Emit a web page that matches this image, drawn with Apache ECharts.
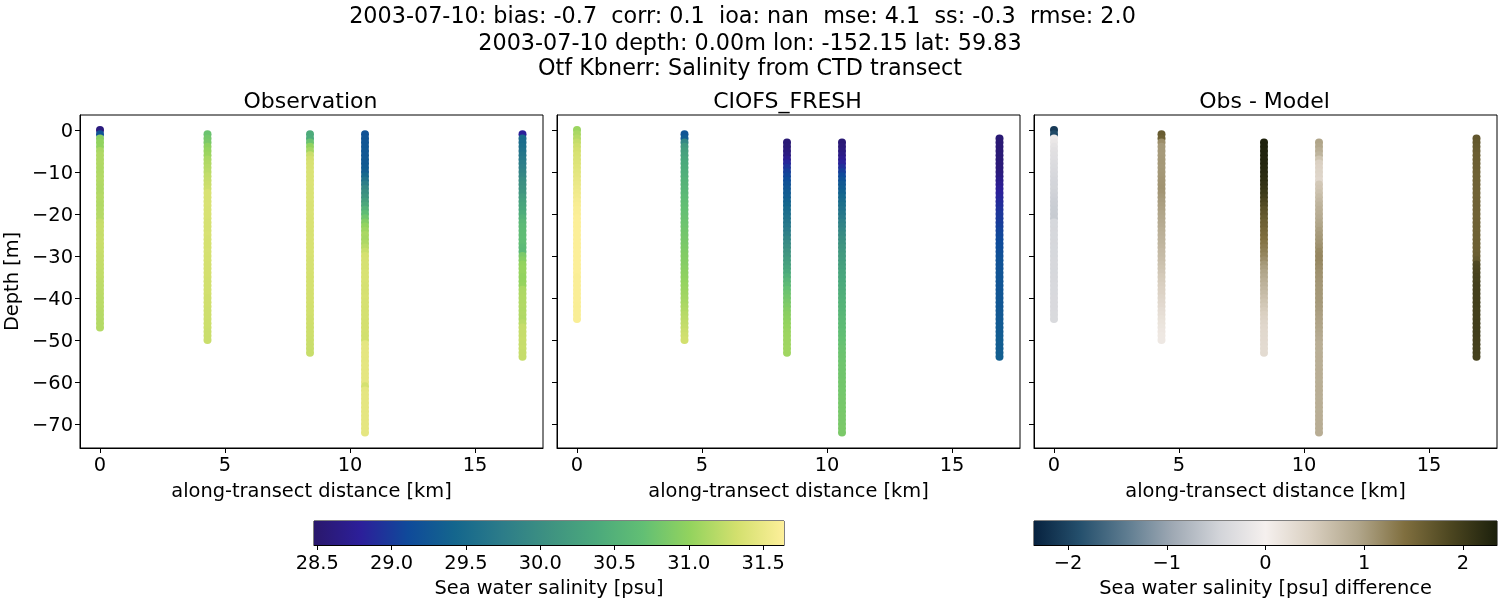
<!DOCTYPE html>
<html>
<head>
<meta charset="utf-8">
<style>
html, body { margin: 0; padding: 0; background: #fff; }
#chart { width: 1500px; height: 600px; }
</style>
<script src="https://cdn.jsdelivr.net/npm/echarts@6/dist/echarts.min.js"></script>
</head>
<body>
<div id="chart"></div>
<script>
var distances = [0, 4.3, 8.4, 10.6, 16.9];
var depths = [0,-1,-2,-3,-4,-5,-6,-7,-8,-9,-10,-11,-12,-13,-14,-15,-16,-17,-18,-19,-20,-21,-22,-23,-24,-25,-26,-27,-28,-29,-30,-31,-32,-33,-34,-35,-36,-37,-38,-39,-40,-41,-42,-43,-44,-45,-46,-47,-48,-49,-50,-51,-52,-53,-54,-55,-56,-57,-58,-59,-60,-61,-62,-63,-64,-65,-66,-67,-68,-69,-70,-71,-72];

// first depth index of every cast
var obsStart = [0, 1, 1, 1, 1];
var modelStart = [0, 1, 3, 3, 2];

var obs0 = [28.6,29.2,30.95,31.0,31.0,31.12,31.15,31.15,31.16,31.15,
  31.15,31.16,31.17,31.16,31.15,31.16,31.18,31.17,31.16,31.17,
  31.18,31.18,31.26,31.27,31.27,31.26,31.27,31.28,31.27,31.27,
  31.26,31.26,31.25,31.25,31.24,31.24,31.23,31.22,31.22,31.21,
  31.2,31.2,31.2,31.19,31.18,31.18,31.17,31.17];
var obs1 = [30.75,30.82,30.85,30.98,31.02,31.05,31.12,31.15,31.18,31.2,
  31.24,31.26,31.28,31.3,31.36,31.36,31.36,31.37,31.36,31.36,
  31.36,31.35,31.35,31.35,31.36,31.35,31.34,31.34,31.35,31.34,
  31.34,31.33,31.33,31.33,31.33,31.32,31.32,31.32,31.32,31.31,
  31.31,31.31,31.3,31.3,31.3,31.29,31.29,31.28,31.28,31.28];
var obs2 = [30.4,30.42,30.75,31.0,31.1,31.28,31.33,31.36,31.37,31.38,
  31.38,31.38,31.39,31.38,31.38,31.38,31.38,31.37,31.37,31.38,
  31.37,31.37,31.37,31.36,31.36,31.37,31.36,31.36,31.36,31.36,
  31.35,31.35,31.35,31.35,31.34,31.34,31.34,31.34,31.33,31.33,
  31.33,31.32,31.32,31.32,31.31,31.31,31.3,31.3,31.3,31.29,
  31.28,31.28,31.27];
var obs3 = [29.2,29.22,29.24,29.25,29.26,29.26,29.27,29.28,29.3,29.34,
  29.45,29.6,29.75,29.9,30.0,30.1,30.22,30.35,30.5,30.65,
  30.78,30.9,31.0,31.06,31.12,31.1,31.14,31.2,31.27,31.34,
  31.35,31.35,31.35,31.36,31.36,31.36,31.35,31.35,31.35,31.36,
  31.35,31.35,31.34,31.34,31.34,31.33,31.33,31.33,31.32,31.32,
  31.45,31.46,31.46,31.46,31.45,31.46,31.46,31.46,31.46,31.46,
  31.34,31.45,31.46,31.46,31.46,31.46,31.46,31.46,31.46,31.46,
  31.46,31.46];
var obs4 = [28.8,29.5,29.52,29.55,29.6,29.65,29.7,29.75,29.8,29.85,
  29.9,29.98,30.02,30.06,30.1,30.2,30.25,30.3,30.35,30.42,
  30.5,30.58,30.62,30.64,30.65,30.66,30.66,30.62,30.6,30.85,
  30.92,31.0,31.02,31.02,31.0,31.01,31.02,31.12,31.14,31.15,
  31.15,31.16,31.15,31.16,31.15,31.2,31.26,31.26,31.26,31.27,
  31.26,31.27,31.26,31.26];

var model0 = [31.05,31.12,31.18,31.25,31.3,31.33,31.36,31.38,31.4,31.42,
  31.44,31.46,31.48,31.5,31.52,31.54,31.56,31.58,31.6,31.61,
  31.62,31.63,31.63,31.63,31.63,31.63,31.63,31.63,31.63,31.63,
  31.63,31.63,31.63,31.63,31.63,31.62,31.62,31.62,31.62,31.62,
  31.62,31.62,31.61,31.61,31.61,31.61];
var model1 = [29.22,29.3,29.9,30.15,30.22,30.28,30.33,30.37,30.4,30.43,
  30.46,30.5,30.52,30.55,30.58,30.62,30.65,30.68,30.7,30.71,
  30.73,30.75,30.77,30.79,30.8,30.82,30.84,30.86,30.88,30.9,
  30.91,30.92,30.94,30.96,30.98,31.0,31.02,31.04,31.06,31.08,
  31.1,31.13,31.15,31.18,31.2,31.23,31.25,31.28,31.3,31.32];
var model2 = [28.54,28.55,28.58,28.62,28.72,28.85,28.95,29.02,29.08,29.14,
  29.2,29.25,29.3,29.34,29.38,29.43,29.48,29.53,29.58,29.63,
  29.68,29.73,29.8,29.87,29.94,30.0,30.06,30.12,30.18,30.24,
  30.3,30.38,30.47,30.55,30.62,30.7,30.76,30.8,30.84,30.88,
  30.92,30.95,30.97,31.0,31.02,31.04,31.05,31.06,31.06,31.07,31.07];
var model3 = [28.54,28.56,28.6,28.65,28.72,28.82,28.92,29.02,29.12,29.2,
  29.28,29.33,29.38,29.45,29.5,29.55,29.6,29.65,29.72,29.8,
  29.85,29.9,29.95,30.0,30.05,30.1,30.13,30.17,30.2,30.23,
  30.27,30.3,30.33,30.36,30.39,30.41,30.44,30.47,30.5,30.52,
  30.54,30.56,30.59,30.62,30.64,30.66,30.68,30.7,30.72,30.74,
  30.75,30.76,30.77,30.78,30.78,30.79,30.79,30.8,30.8,30.81,
  30.81,30.82,30.82,30.83,30.83,30.84,30.84,30.84,30.85,30.85];
var model4 = [28.53,28.53,28.54,28.54,28.55,28.55,28.56,28.57,28.59,28.62,
  28.68,28.72,28.76,28.8,28.84,28.87,28.9,28.93,28.96,28.98,
  29.0,29.03,29.06,29.08,29.1,29.12,29.14,29.16,29.18,29.2,
  29.2,29.21,29.22,29.22,29.23,29.24,29.24,29.25,29.25,29.26,
  29.26,29.27,29.27,29.28,29.29,29.3,29.3,29.31,29.32,29.33,
  29.33,29.34,29.35];

var diff0 = [-2.1,-1.95,-0.1,-0.15,-0.22,-0.26,-0.28,-0.3,-0.33,-0.36,
  -0.38,-0.4,-0.43,-0.45,-0.46,-0.48,-0.5,-0.52,-0.53,-0.55,
  -0.56,-0.57,-0.41,-0.41,-0.42,-0.41,-0.41,-0.42,-0.41,-0.41,
  -0.41,-0.4,-0.4,-0.4,-0.41,-0.4,-0.4,-0.39,-0.39,-0.39,
  -0.38,-0.38,-0.38,-0.38,-0.37,-0.37];
var diff1 = [1.62,1.58,1.15,1.05,1.05,1.04,1.05,1.06,1.05,1.06,
  1.07,1.08,1.09,1.1,1.08,1.05,1.02,1.0,0.98,0.95,
  0.93,0.9,0.88,0.85,0.82,0.8,0.78,0.75,0.72,0.7,
  0.67,0.63,0.6,0.57,0.53,0.5,0.47,0.44,0.42,0.38,
  0.35,0.32,0.28,0.25,0.22,0.19,0.16,0.14,0.12,0.11];
var diff2 = [2.32,2.32,2.3,2.3,2.28,2.27,2.25,2.23,2.2,2.17,
  2.12,2.08,2.03,1.97,1.9,1.83,1.75,1.7,1.64,1.58,
  1.55,1.5,1.46,1.42,1.36,1.31,1.27,1.22,1.15,1.06,
  1.0,0.95,0.9,0.85,0.8,0.75,0.7,0.65,0.6,0.55,
  0.5,0.46,0.42,0.38,0.35,0.34,0.33,0.32,0.31,0.3,0.3];
var diff3 = [0.95,0.92,0.85,0.78,0.6,0.45,0.42,0.4,0.38,0.35,
  0.55,0.58,0.62,0.68,0.73,0.78,0.82,0.85,0.88,0.92,
  0.95,1.0,1.03,1.06,1.08,1.12,1.18,1.2,1.2,1.18,
  1.15,1.12,1.1,1.08,1.07,1.06,1.06,1.05,1.05,1.03,
  1.02,1.0,0.98,0.96,0.95,0.93,0.9,0.88,0.85,0.85,
  0.84,0.85,0.85,0.84,0.85,0.85,0.85,0.84,0.85,0.85,
  0.85,0.84,0.85,0.85,0.84,0.85,0.85,0.86,0.86,0.86];
var diff4 = [1.68,1.66,1.64,1.62,1.6,1.6,1.58,1.58,1.57,1.56,
  1.56,1.55,1.55,1.54,1.54,1.55,1.55,1.55,1.54,1.54,
  1.55,1.56,1.56,1.57,1.57,1.58,1.58,1.59,1.6,1.65,
  1.85,1.88,1.9,1.92,1.93,1.95,1.95,1.96,1.96,1.96,
  1.96,1.95,1.95,1.95,1.97,1.97,1.98,1.97,1.96,1.96,
  1.95,1.95,1.94];

var xTicks = [0, 5, 10, 15];
var yTicks = [0, -10, -20, -30, -40, -50, -60, -70];
var salinityTicks = [28.5, 29, 29.5, 30, 30.5, 31, 31.5];
var diffTicks = [-2, -1, 0, 1, 2];
var salinityRange = [28.478, 31.64];
var diffRange = [-2.345, 2.345];

// evenly spaced colormap samples
var halineColors = ['#2a186c','#2c1f9a','#0f4a9a','#14668d','#2c7c89','#3e9281','#4ba97c','#62bf74','#93d35e','#d3e06e','#fdef9a'];
var diffColors = ['#07223f','#25506d','#5e7c90','#9fa9b4','#d2d4d9','#f5f0ee','#d9cfc0','#b1a68b','#806f3f','#4c4620','#1c200c'];

var titleLines = [
    '2003-07-10: bias: -0.7  corr: 0.1  ioa: nan  mse: 4.1  ss: -0.3  rmse: 2.0',
    '2003-07-10 depth: 0.00m lon: -152.15 lat: 59.83',
    'Otf Kbnerr: Salinity from CTD transect'
];
var panelTitles = ['Observation', 'CIOFS_FRESH', 'Obs - Model'];

var FONT = 'DejaVu Sans';
var TICK_SIZE = 19.4;
var TITLE_SIZE = 22.3;
var PANEL_TITLE_SIZE = 22;
var panelLeft = [80, 557, 1034];
var panelWidth = 463;
var titleLeft = [737.5, 745, 745];
var titleTop = [1, 28, 53];

function minusSign(v) {
    return String(v).replace('-', '\u2212');
}

function castPoints(casts, starts) {
    var points = [];
    for (var c = 0; c < casts.length; c++) {
        for (var i = 0; i < casts[c].length; i++) {
            points.push([distances[c], depths[starts[c] + i], casts[c][i]]);
        }
    }
    return points;
}

function gradientStops(colors) {
    return colors.map(function (color, i) {
        return { offset: i / (colors.length - 1), color: color };
    });
}

function colorbarItem(colors) {
    return function (params, api) {
        var a = api.coord([api.value(0), 1]);
        var b = api.coord([api.value(1), 0]);
        return {
            type: 'rect',
            shape: { x: a[0], y: a[1], width: b[0] - a[0], height: b[1] - a[1] },
            style: { fill: new echarts.graphic.LinearGradient(0, 0, 1, 0, gradientStops(colors)) }
        };
    };
}

function bottomAxis(gridIndex, min, max, ticks, name, gap, margin, formatter) {
    return {
        type: 'value',
        gridIndex: gridIndex,
        min: min,
        max: max,
        name: name,
        nameLocation: 'middle',
        nameGap: gap,
        nameTextStyle: { fontFamily: FONT, fontSize: TICK_SIZE, color: '#000' },
        splitLine: { show: false },
        axisLine: { show: true, onZero: false, lineStyle: { color: '#000', width: 1 } },
        axisTick: { show: true, length: 5, customValues: ticks, lineStyle: { color: '#000', width: 1 } },
        axisLabel: {
            show: true, margin: margin, customValues: ticks, formatter: formatter,
            fontFamily: FONT, fontSize: TICK_SIZE, color: '#000', hideOverlap: false,
            showMinLabel: true, showMaxLabel: true
        }
    };
}

var grids = [], xAxes = [], yAxes = [], titles = [];

titleLines.forEach(function (text, i) {
    titles.push({
        text: text, left: titleLeft[i], top: titleTop[i], textAlign: 'center',
        textStyle: { fontFamily: FONT, fontSize: TITLE_SIZE, fontWeight: 'normal', color: '#000' }
    });
});

panelTitles.forEach(function (text, i) {
    titles.push({
        text: text, left: panelLeft[i] + panelWidth / 2 - 6, top: 86, textAlign: 'center',
        textStyle: { fontFamily: FONT, fontSize: PANEL_TITLE_SIZE, fontWeight: 'normal', color: '#000' }
    });
    grids.push({ left: panelLeft[i], top: 115, width: panelWidth, height: 333, show: true, borderColor: '#000', borderWidth: 1, backgroundColor: 'transparent' });
    xAxes.push(bottomAxis(i, -0.8, 17.72, xTicks, 'along-transect distance [km]', 34, 8, minusSign));
    yAxes.push({
        type: 'value',
        gridIndex: i,
        min: -75.7,
        max: 3.57,
        name: i === 0 ? 'Depth [m]' : '',
        nameLocation: 'middle',
        nameGap: 58,
        nameTextStyle: { fontFamily: FONT, fontSize: TICK_SIZE, color: '#000' },
        splitLine: { show: false },
        axisLine: { show: true, onZero: false, lineStyle: { color: '#000', width: 1 } },
        axisTick: { show: true, length: 5, customValues: yTicks, lineStyle: { color: '#000', width: 1 } },
        axisLabel: {
            show: i === 0, margin: 7, customValues: yTicks, formatter: minusSign,
            verticalAlign: 'top', lineHeight: 4,
            fontFamily: FONT, fontSize: TICK_SIZE, color: '#000', showMinLabel: true, showMaxLabel: true
        }
    });
});

// colorbars
grids.push({ left: 314, top: 521, width: 470, height: 24, show: true, borderColor: '#000', borderWidth: 1, backgroundColor: 'transparent' });
xAxes.push(bottomAxis(3, salinityRange[0], salinityRange[1], salinityTicks, 'Sea water salinity [psu]', 34, 9, function (v) { return v.toFixed(1); }));
yAxes.push({ type: 'value', gridIndex: 3, min: 0, max: 1, show: false });
grids.push({ left: 1034, top: 521, width: 463, height: 24, show: true, borderColor: '#000', borderWidth: 1, backgroundColor: 'transparent' });
xAxes.push(bottomAxis(4, diffRange[0], diffRange[1], diffTicks, 'Sea water salinity [psu] difference', 34, 9, minusSign));
yAxes.push({ type: 'value', gridIndex: 4, min: 0, max: 1, show: false });

function scatterSeries(i, data) {
    return {
        type: 'scatter',
        xAxisIndex: i,
        yAxisIndex: i,
        symbol: 'circle',
        symbolSize: 8,
        data: data,
        large: false,
        progressive: 0,
        animation: false,
        itemStyle: { opacity: 1 },
        emphasis: { disabled: true }
    };
}

var option = {
    backgroundColor: '#fff',
    animation: false,
    title: titles,
    grid: grids,
    xAxis: xAxes,
    yAxis: yAxes,
    visualMap: [
        { type: 'continuous', show: false, seriesIndex: [0, 1], dimension: 2, min: salinityRange[0], max: salinityRange[1], inRange: { color: halineColors } },
        { type: 'continuous', show: false, seriesIndex: [2], dimension: 2, min: diffRange[0], max: diffRange[1], inRange: { color: diffColors } }
    ],
    series: [
        scatterSeries(0, castPoints([obs0, obs1, obs2, obs3, obs4], obsStart)),
        scatterSeries(1, castPoints([model0, model1, model2, model3, model4], modelStart)),
        scatterSeries(2, castPoints([diff0, diff1, diff2, diff3, diff4], modelStart)),
        {
            type: 'custom', xAxisIndex: 3, yAxisIndex: 3, silent: true,
            encode: { x: [0, 1] }, data: [salinityRange], renderItem: colorbarItem(halineColors)
        },
        {
            type: 'custom', xAxisIndex: 4, yAxisIndex: 4, silent: true,
            encode: { x: [0, 1] }, data: [diffRange], renderItem: colorbarItem(diffColors)
        }
    ]
};

var myChart = echarts.init(document.getElementById('chart'), null, { renderer: 'canvas' });
myChart.setOption(option);
</script>
</body>
</html>
